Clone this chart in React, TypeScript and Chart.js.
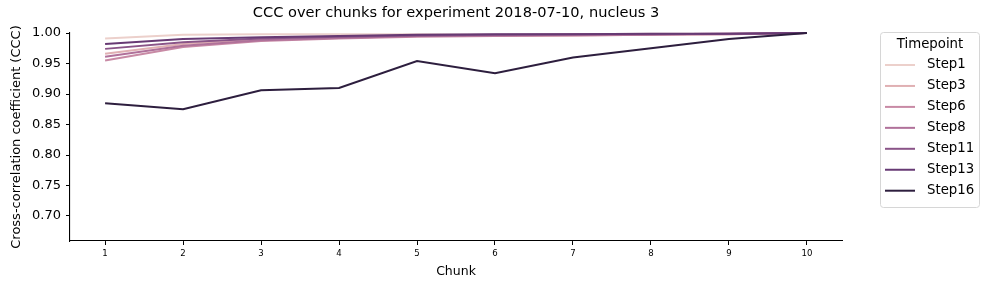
import React, { useEffect, useRef } from "react";
import { Chart, registerables } from "chart.js";

Chart.register(...registerables);

const chunks = [1, 2, 3, 4, 5, 6, 7, 8, 9, 10];
const timepoints = ["Step1", "Step3", "Step6", "Step8", "Step11", "Step13", "Step16"];
const colors = ["#ecd0cb", "#e0b0b3", "#c88aa5", "#b0719a", "#8a5488", "#673a74", "#2d1e3e"];

const step1 = [0.991, 0.997, 0.998, 0.998, 0.998, 0.997, 0.998, 0.999, 0.999, 1.0];
const step3 = [0.966, 0.982, 0.99, 0.993, 0.995, 0.995, 0.996, 0.997, 0.998, 1.0];
const step6 = [0.955, 0.977, 0.987, 0.991, 0.994, 0.995, 0.996, 0.997, 0.998, 1.0];
const step8 = [0.961, 0.979, 0.988, 0.992, 0.995, 0.996, 0.997, 0.998, 0.999, 1.0];
const step11 = [0.974, 0.985, 0.991, 0.994, 0.996, 0.997, 0.998, 0.998, 0.999, 1.0];
const step13 = [0.982, 0.99, 0.993, 0.995, 0.997, 0.998, 0.998, 0.999, 0.999, 1.0];
const step16 = [0.885, 0.875, 0.906, 0.91, 0.954, 0.934, 0.96, 0.975, 0.99, 1.0];
const seriesValues = [step1, step3, step6, step8, step11, step13, step16];

const yTicks = [0.7, 0.75, 0.8, 0.85, 0.9, 0.95, 1.0];
const titleText = "CCC over chunks for experiment 2018-07-10, nucleus 3";
const legendTitle = "Timepoint";

const FONT = "'DejaVu Sans', sans-serif";

const legendPlugin = {
  id: "boxLegend",
  afterDraw(chart: any) {
    const ctx = chart.ctx as CanvasRenderingContext2D;
    ctx.save();
    const x0 = 880.5, y0 = 32.5, w = 99, h = 175;
    ctx.beginPath();
    (ctx as any).roundRect(x0, y0, w, h, 3);
    ctx.fillStyle = "rgba(255,255,255,0.8)";
    ctx.fill();
    ctx.strokeStyle = "#d6d6d6";
    ctx.lineWidth = 1;
    ctx.stroke();
    ctx.fillStyle = "#000";
    ctx.font = `13.3px ${FONT}`;
    ctx.textAlign = "center";
    ctx.textBaseline = "middle";
    ctx.fillText(legendTitle, x0 + w / 2, 44.5);
    ctx.textAlign = "left";
    timepoints.forEach((t, i) => {
      const y = 65 + i * 20.95;
      ctx.strokeStyle = colors[i];
      ctx.lineWidth = 2;
      ctx.beginPath();
      ctx.moveTo(885, y);
      ctx.lineTo(915, y);
      ctx.stroke();
      ctx.fillStyle = "#000";
      ctx.fillText(t, 927, y);
    });
    ctx.restore();
  },
};

export default function App() {
  const ref = useRef<HTMLCanvasElement>(null);
  useEffect(() => {
    if (!ref.current) return;
    const chart = new Chart(ref.current, {
      type: "line",
      data: {
        datasets: timepoints.map((t, i) => ({
          label: t,
          data: chunks.map((c, j) => ({ x: c, y: seriesValues[i][j] })),
          borderColor: colors[i],
          backgroundColor: colors[i],
          borderWidth: 2,
          pointRadius: 0,
          tension: 0,
          order: timepoints.length - i,
          clip: 1,
        })),
      },
      options: {
        responsive: false,
        animation: false,
        devicePixelRatio: 1,
        layout: { padding: { left: 0, right: 147, top: 0, bottom: 0 } },
        plugins: {
          legend: { display: false },
          tooltip: { enabled: false },
          title: {
            display: true,
            text: titleText,
            fullSize: false,
            color: "#000",
            font: { family: FONT, size: 14.6, weight: "normal" },
            padding: { top: 4.3, bottom: 11.2 },
          },
        },
        scales: {
          x: {
            type: "linear",
            min: 0.55,
            max: 10.45,
            afterBuildTicks: (s: any) => {
              s.ticks = chunks.map((v) => ({ value: v }));
            },
            afterFit: (s: any) => {
              s.height = 49;
            },
            ticks: {
              color: "#000",
              font: { family: "'DejaVu Sans Condensed', sans-serif", size: 9.5 },
              padding: 3,
              maxRotation: 0,
              callback: (v: any) => String(v),
            },
            grid: {
              display: true,
              drawOnChartArea: false,
              drawTicks: true,
              tickLength: 4,
              tickColor: "#000",
              tickWidth: 1,
            },
            border: { display: true, color: "#000", width: 1.1 },
            title: {
              display: true,
              text: "Chunk",
              color: "#000",
              font: { family: FONT, size: 12.5 },
              padding: { top: 2, bottom: 10.5 },
            },
          },
          y: {
            type: "linear",
            min: 0.659,
            max: 1.0,
            afterBuildTicks: (s: any) => {
              s.ticks = yTicks.map((v) => ({ value: v }));
            },
            afterFit: (s: any) => {
              s.width = 70;
            },
            ticks: {
              color: "#000",
              font: { family: FONT, size: 13 },
              padding: 5,
              callback: (v: any) => Number(v).toFixed(2),
            },
            grid: {
              display: true,
              drawOnChartArea: false,
              drawTicks: true,
              tickLength: 4,
              tickColor: "#000",
              tickWidth: 1,
            },
            border: { display: true, color: "#000", width: 1.1 },
            title: {
              display: true,
              text: "Cross-correlation coefficient (CCC)",
              color: "#000",
              font: { family: FONT, size: 13 },
              padding: { top: 9, bottom: 4 },
            },
          },
        },
      },
      plugins: [legendPlugin],
    } as any);
    return () => chart.destroy();
  }, []);
  return (
    <div style={{ position: "fixed", left: 0, top: 0, width: 989, height: 290, background: "#fff" }}>
      <canvas ref={ref} width={989} height={290} style={{ width: 989, height: 290 }} />
    </div>
  );
}
